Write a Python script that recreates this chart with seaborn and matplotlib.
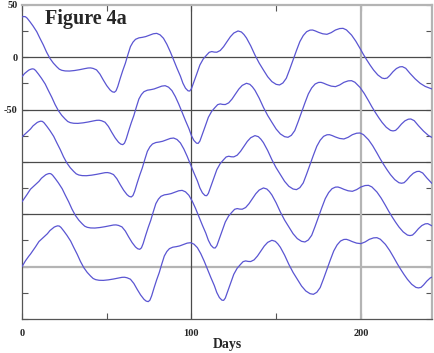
import matplotlib
matplotlib.use("Agg")
import matplotlib.pyplot as plt
import seaborn as sns
import pandas as pd
from matplotlib.ticker import FixedLocator

sns.set_style("ticks")
plt.rcParams["font.family"] = ["Liberation Serif", "DejaVu Serif"]

# ---- data: (day, value) ----
series_1 = [(0, 38.5), (1, 39), (2, 38.8), (3, 37.5), (4.7, 34), (6.5, 30), (8.7, 24.5), (10.5, 18.5),
            (12.6, 11.8), (14.5, 5), (16.5, -1), (18.5, -5.5), (20.5, -9), (22, -11.3), (23.5, -12.4),
            (25.5, -13), (28, -13.1), (31, -12.6), (34, -11.8), (37, -10.8), (39, -10.2), (40.5, -10.1),
            (42, -10.6), (44, -12), (46, -16), (48, -21.7), (50, -27), (52, -31.2), (53.3, -32.9),
            (54.5, -33.4), (55.5, -32), (56.5, -28), (58, -20), (59.5, -12.5), (61, -5.7), (62.5, 2.5),
            (64, 10.2), (65.5, 14.5), (67, 17.2), (69, 18.6), (71, 19.1), (73, 19.8), (75.5, 21.3),
            (77.5, 22.5), (79.5, 22.9), (81.5, 21.5), (83.5, 18.2), (85.5, 12.5), (87.5, 5.4),
            (89.5, -2.5), (91.5, -10.5), (93.5, -18), (95, -24.8), (96.5, -29.5), (98, -32), (99, -32.2),
            (100, -30), (101, -25.5), (103, -16.5), (105, -7.3), (107, -1.5), (109, 2.2), (110.5, 4.8),
            (112, 5.5), (113.5, 5), (115, 4.9), (117, 6.5), (119, 10.2), (121, 15), (123, 19.7),
            (125, 23.2), (127.5, 25.2), (129.5, 24.2), (131, 21.8), (132.5, 18.5), (135, 11), (137.5, 2.2),
            (140, -5.5), (142.5, -12.1), (145, -18.5), (147.5, -23.2), (150, -25.8), (152, -26.4),
            (154, -24.5), (156, -20), (158, -11.5), (160, -2.5), (162, 6.5), (164, 15), (166, 20.8),
            (168, 24.5), (170, 26), (171.5, 26.1), (173, 25.3), (175, 23.9), (177.5, 22.5), (180, 22),
            (182.5, 23.6), (185, 26.1), (187.5, 27.5), (189.5, 27.7), (191.5, 26.2), (194.5, 21.3),
            (197, 15.5), (199.5, 8.6), (201.5, 2.8), (203.5, -2.5), (205.5, -7.5), (207.5, -12.1),
            (210, -16.8), (212.5, -19.8), (214, -20.3), (215.5, -19.8), (217, -17.5), (219, -13.7),
            (221, -10.7), (223, -9.1), (224.5, -8.9), (226.5, -10.5), (229, -15.3), (232, -20.5),
            (235, -24.8), (238, -27.8), (240.9, -29.6), (242, -30.2)]

series_2 = [(0, -18.5), (1.5, -15.5), (3, -13.5), (4, -12.2), (5, -11.5), (6, -11), (7, -11.2), (8, -12.5),
            (9.7, -16), (11.5, -20), (13.7, -25.5), (15.5, -31.5), (17.6, -38.2), (19.5, -45), (21.5, -51),
            (23.5, -55.5), (25.5, -59), (27, -61.3), (28.5, -62.4), (30.5, -63), (33, -63.1), (36, -62.6),
            (39, -61.8), (42, -60.8), (44, -60.2), (45.5, -60.1), (47, -60.6), (49, -62), (51, -66),
            (53, -71.7), (55, -77), (57, -81.2), (58.3, -82.9), (59.5, -83.4), (60.5, -82), (61.5, -78),
            (63, -70), (64.5, -62.5), (66, -55.7), (67.5, -47.5), (69, -39.8), (70.5, -35.5), (72, -32.8),
            (74, -31.4), (76, -30.9), (78, -30.2), (80.5, -28.7), (82.5, -27.5), (84.5, -27.1),
            (86.5, -28.5), (88.5, -31.8), (90.5, -37.5), (92.5, -44.6), (94.5, -52.5), (96.5, -60.5),
            (98.5, -68), (100, -74.8), (101.5, -79.5), (103, -82), (104, -82.2), (105, -80), (106, -75.5),
            (108, -66.5), (110, -57.3), (112, -51.5), (114, -47.8), (115.5, -45.2), (117, -44.5),
            (118.5, -45), (120, -45.1), (122, -43.5), (124, -39.8), (126, -35), (128, -30.3),
            (130, -26.8), (132.5, -24.8), (134.5, -25.8), (136, -28.2), (137.5, -31.5), (140, -39),
            (142.5, -47.8), (145, -55.5), (147.5, -62.1), (150, -68.5), (152.5, -73.2), (155, -75.8),
            (157, -76.4), (159, -74.5), (161, -70), (163, -61.5), (165, -52.5), (167, -43.5), (169, -35),
            (171, -29.2), (173, -25.5), (175, -24), (176.5, -23.9), (178, -24.7), (180, -26.1),
            (182.5, -27.5), (185, -28), (187.5, -26.4), (190, -23.9), (192.5, -22.5), (194.5, -22.3),
            (196.5, -23.8), (199.5, -28.7), (202, -34.5), (204.5, -41.4), (206.5, -47.2), (208.5, -52.5),
            (210.5, -57.5), (212.5, -62.1), (215, -66.8), (217.5, -69.8), (219, -70.3), (220.5, -69.8),
            (222, -67.5), (224, -63.7), (226, -60.7), (228, -59.1), (229.5, -58.9), (231.5, -60.5),
            (234, -65.3), (237, -70.5), (240, -74.8), (242, -76.5)]

series_3 = [(0, -76), (2, -73), (3.6, -70.7), (5, -68.5), (6.5, -65.5), (8, -63.5), (9, -62.2), (10, -61.5),
            (11, -61), (12, -61.2), (13, -62.5), (14.7, -66), (16.5, -70), (18.7, -75.5), (20.5, -81.5),
            (22.6, -88.2), (24.5, -95), (26.5, -101), (28.5, -105.5), (30.5, -109), (32, -111.3),
            (33.5, -112.4), (35.5, -113), (38, -113.1), (41, -112.6), (44, -111.8), (47, -110.8),
            (49, -110.2), (50.5, -110.1), (52, -110.6), (54, -112), (56, -116), (58, -121.7), (60, -127),
            (62, -131.2), (63.3, -132.9), (64.5, -133.4), (65.5, -132), (66.5, -128), (68, -120),
            (69.5, -112.5), (71, -105.7), (72.5, -97.5), (74, -89.8), (75.5, -85.5), (77, -82.8),
            (79, -81.4), (81, -80.9), (83, -80.2), (85.5, -78.7), (87.5, -77.5), (89.5, -77.1),
            (91.5, -78.5), (93.5, -81.8), (95.5, -87.5), (97.5, -94.6), (99.5, -102.5), (101.5, -110.5),
            (103.5, -118), (105, -124.8), (106.5, -129.5), (108, -132), (109, -132.2), (110, -130),
            (111, -125.5), (113, -116.5), (115, -107.3), (117, -101.5), (119, -97.8), (120.5, -95.2),
            (122, -94.5), (123.5, -95), (125, -95.1), (127, -93.5), (129, -89.8), (131, -85), (133, -80.3),
            (135, -76.8), (137.5, -74.8), (139.5, -75.8), (141, -78.2), (142.5, -81.5), (145, -89),
            (147.5, -97.8), (150, -105.5), (152.5, -112.1), (155, -118.5), (157.5, -123.2), (160, -125.8),
            (162, -126.4), (164, -124.5), (166, -120), (168, -111.5), (170, -102.5), (172, -93.5),
            (174, -85), (176, -79.2), (178, -75.5), (180, -74), (181.5, -73.9), (183, -74.7), (185, -76.1),
            (187.5, -77.5), (190, -78), (192.5, -76.4), (195, -73.9), (197.5, -72.5), (199.5, -72.3),
            (201.5, -73.8), (204.5, -78.7), (207, -84.5), (209.5, -91.4), (211.5, -97.2), (213.5, -102.5),
            (215.5, -107.5), (217.5, -112.1), (220, -116.8), (222.5, -119.8), (224, -120.3),
            (225.5, -119.8), (227, -117.5), (229, -113.7), (231, -110.7), (233, -109.1), (234.5, -108.9),
            (236.5, -110.5), (239, -115.3), (242, -120.5)]

series_4 = [(0, -138), (1.7, -134), (3, -131), (5, -126), (7, -123), (8.6, -120.7), (10, -118.5),
            (11.5, -115.5), (13, -113.5), (14, -112.2), (15, -111.5), (16, -111), (17, -111.2),
            (18, -112.5), (19.7, -116), (21.5, -120), (23.7, -125.5), (25.5, -131.5), (27.6, -138.2),
            (29.5, -145), (31.5, -151), (33.5, -155.5), (35.5, -159), (37, -161.3), (38.5, -162.4),
            (40.5, -163), (43, -163.1), (46, -162.6), (49, -161.8), (52, -160.8), (54, -160.2),
            (55.5, -160.1), (57, -160.6), (59, -162), (61, -166), (63, -171.7), (65, -177), (67, -181.2),
            (68.3, -182.9), (69.5, -183.4), (70.5, -182), (71.5, -178), (73, -170), (74.5, -162.5),
            (76, -155.7), (77.5, -147.5), (79, -139.8), (80.5, -135.5), (82, -132.8), (84, -131.4),
            (86, -130.9), (88, -130.2), (90.5, -128.7), (92.5, -127.5), (94.5, -127.1), (96.5, -128.5),
            (98.5, -131.8), (100.5, -137.5), (102.5, -144.6), (104.5, -152.5), (106.5, -160.5),
            (108.5, -168), (110, -174.8), (111.5, -179.5), (113, -182), (114, -182.2), (115, -180),
            (116, -175.5), (118, -166.5), (120, -157.3), (122, -151.5), (124, -147.8), (125.5, -145.2),
            (127, -144.5), (128.5, -145), (130, -145.1), (132, -143.5), (134, -139.8), (136, -135),
            (138, -130.3), (140, -126.8), (142.5, -124.8), (144.5, -125.8), (146, -128.2), (147.5, -131.5),
            (150, -139), (152.5, -147.8), (155, -155.5), (157.5, -162.1), (160, -168.5), (162.5, -173.2),
            (165, -175.8), (167, -176.4), (169, -174.5), (171, -170), (173, -161.5), (175, -152.5),
            (177, -143.5), (179, -135), (181, -129.2), (183, -125.5), (185, -124), (186.5, -123.9),
            (188, -124.7), (190, -126.1), (192.5, -127.5), (195, -128), (197.5, -126.4), (200, -123.9),
            (202.5, -122.5), (204.5, -122.3), (206.5, -123.8), (209.5, -128.7), (212, -134.5),
            (214.5, -141.4), (216.5, -147.2), (218.5, -152.5), (220.5, -157.5), (222.5, -162.1),
            (225, -166.8), (227.5, -169.8), (229, -170.3), (230.5, -169.8), (232, -167.5), (234, -163.7),
            (236, -160.7), (238, -159.1), (239.5, -158.9), (241.5, -160.5), (242, -161)]

series_5 = [(0, -200), (2, -194.5), (4, -190), (5, -188), (6.7, -184), (8, -181), (10, -176), (12, -173),
            (13.6, -170.7), (15, -168.5), (16.5, -165.5), (18, -163.5), (19, -162.2), (20, -161.5),
            (21, -161), (22, -161.2), (23, -162.5), (24.7, -166), (26.5, -170), (28.7, -175.5),
            (30.5, -181.5), (32.6, -188.2), (34.5, -195), (36.5, -201), (38.5, -205.5), (40.5, -209),
            (42, -211.3), (43.5, -212.4), (45.5, -213), (48, -213.1), (51, -212.6), (54, -211.8),
            (57, -210.8), (59, -210.2), (60.5, -210.1), (62, -210.6), (64, -212), (66, -216), (68, -221.7),
            (70, -227), (72, -231.2), (73.3, -232.9), (74.5, -233.4), (75.5, -232), (76.5, -228),
            (78, -220), (79.5, -212.5), (81, -205.7), (82.5, -197.5), (84, -189.8), (85.5, -185.5),
            (87, -182.8), (89, -181.4), (91, -180.9), (93, -180.2), (95.5, -178.7), (97.5, -177.5),
            (99.5, -177.1), (101.5, -178.5), (103.5, -181.8), (105.5, -187.5), (107.5, -194.6),
            (109.5, -202.5), (111.5, -210.5), (113.5, -218), (115, -224.8), (116.5, -229.5), (118, -232),
            (119, -232.2), (120, -230), (121, -225.5), (123, -216.5), (125, -207.3), (127, -201.5),
            (129, -197.8), (130.5, -195.2), (132, -194.5), (133.5, -195), (135, -195.1), (137, -193.5),
            (139, -189.8), (141, -185), (143, -180.3), (145, -176.8), (147.5, -174.8), (149.5, -175.8),
            (151, -178.2), (152.5, -181.5), (155, -189), (157.5, -197.8), (160, -205.5), (162.5, -212.1),
            (165, -218.5), (167.5, -223.2), (170, -225.8), (172, -226.4), (174, -224.5), (176, -220),
            (178, -211.5), (180, -202.5), (182, -193.5), (184, -185), (186, -179.2), (188, -175.5),
            (190, -174), (191.5, -173.9), (193, -174.7), (195, -176.1), (197.5, -177.5), (200, -178),
            (202.5, -176.4), (205, -173.9), (207.5, -172.5), (209.5, -172.3), (211.5, -173.8),
            (214.5, -178.7), (217, -184.5), (219.5, -191.4), (221.5, -197.2), (223.5, -202.5),
            (225.5, -207.5), (227.5, -212.1), (230, -216.8), (232.5, -219.8), (234, -220.3),
            (235.5, -219.8), (237, -217.5), (239, -213.7), (241, -210.7), (242, -210)]

x_tick_labels = ["0", "100", "200"]
y_tick_labels = ["50", "0", "-50"]

frames = []
for i, s in enumerate([series_1, series_2, series_3, series_4, series_5]):
    frames.append(pd.DataFrame({"day": [p[0] for p in s], "value": [p[1] for p in s], "series": i}))
df = pd.concat(frames, ignore_index=True)

W, H = 435, 353
fig = plt.figure(figsize=(W / 100, H / 100), dpi=100)
ax = fig.add_axes([22 / W, 1 - 319 / H, 410 / W, 314 / H])

# reference lines
for yv in [0, -50, -100, -150]:
    ax.axhline(yv, color="#4a4a4a", lw=0.9, zorder=1)
ax.axhline(-200, color="#b4b4b4", lw=1.6, zorder=1)
ax.axvline(100, color="#4a4a4a", lw=0.9, zorder=1)
ax.axvline(200, color="#b4b4b4", lw=1.6, zorder=1)

sns.lineplot(data=df, x="day", y="value", units="series", estimator=None, sort=False,
             color="#5a55d2", lw=0.9, ax=ax, legend=False, zorder=3)

ax.set_xlim(0, 242)
ax.set_ylim(-250, 50)

ax.xaxis.set_major_locator(FixedLocator([0, 100, 200]))
ax.xaxis.set_minor_locator(FixedLocator([50, 150]))
ax.set_xticklabels(x_tick_labels)
ax.yaxis.set_major_locator(FixedLocator([50, 0, -50]))
ax.yaxis.set_minor_locator(FixedLocator([25, -25, -75, -100, -125, -150, -175, -200, -225, -250]))
ax.set_yticklabels(y_tick_labels)

ax.tick_params(axis="both", which="both", direction="in", top=True, right=True,
               length=4, width=0.8, color="#555555")
ax.tick_params(axis="x", which="major", labelsize=7.5, pad=7)
ax.tick_params(axis="y", which="major", labelsize=7.5, pad=3)
for lab in ax.get_xticklabels() + ax.get_yticklabels():
    lab.set_fontweight("bold")

for side in ["left", "bottom"]:
    ax.spines[side].set_color("#555555")
    ax.spines[side].set_linewidth(0.9)
for side in ["top", "right"]:
    ax.spines[side].set_color("#b4b4b4")
    ax.spines[side].set_linewidth(1.6)

ax.set_xlabel("Days", fontsize=10, fontweight="bold", labelpad=0)
ax.set_ylabel("")

ax.text(0.056, 0.955, "Figure 4a", transform=ax.transAxes, fontsize=14.5, fontweight="bold",
        ha="left", va="center", zorder=5)

fig.savefig("out.png", dpi=100)
